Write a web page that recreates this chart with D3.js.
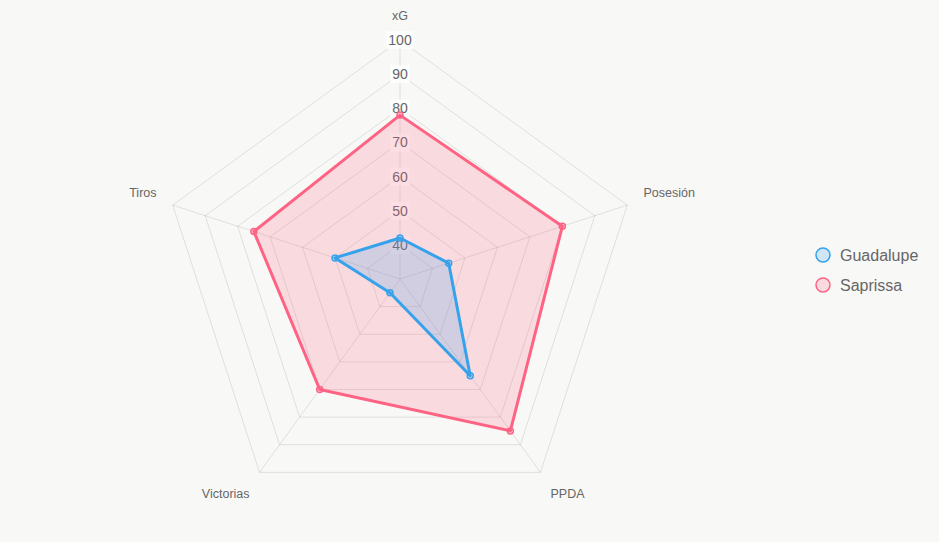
<!DOCTYPE html>
<html>
<head>
<meta charset="utf-8">
<script src="https://cdn.jsdelivr.net/npm/d3@7"></script>
<style>
  body { margin: 0; background: #f8f8f7; }
  svg { display: block; font-family: "Liberation Sans", Arial, Helvetica, sans-serif; }
</style>
</head>
<body>
<div id="chart"></div>
<script>
// axes of the radar and the two teams
var axes = ['xG', 'Posesión', 'PPDA', 'Victorias', 'Tiros'];
var guadalupe = [42, 45, 65, 35, 50];
var saprissa = [78, 80, 85, 70, 75];
var tickValues = [40, 50, 60, 70, 80, 90, 100];
var seriesNames = ['Guadalupe', 'Saprissa'];

var svgWidth = 939, svgHeight = 542;
var cx = 400, cy = 279, radius = 239;

var svg = d3.select('#chart').append('svg')
    .attr('width', svgWidth).attr('height', svgHeight);

svg.append('rect').attr('width', svgWidth).attr('height', svgHeight).attr('fill', '#f8f8f7');

var g = svg.append('g').attr('transform', `translate(${cx},${cy})`);

// radial scale, min 30 at the centre
var rScale = d3.scaleLinear().domain([30, 100]).range([0, radius]);
var angle = d3.scaleLinear().domain([0, axes.length]).range([0, 2 * Math.PI]);

var radial = d3.lineRadial()
    .angle((d, i) => angle(i))
    .radius(d => rScale(d))
    .curve(d3.curveLinearClosed);

// grid rings
tickValues.forEach(t => {
    g.append('path')
        .attr('d', radial(axes.map(() => t)))
        .attr('fill', 'none')
        .attr('stroke', 'rgba(0,0,0,0.1)')
        .attr('stroke-width', 1);
});

// angle lines
axes.forEach((a, i) => {
    var ang = angle(i);
    g.append('line')
        .attr('x1', 0).attr('y1', 0)
        .attr('x2', rScale(100) * Math.sin(ang))
        .attr('y2', -rScale(100) * Math.cos(ang))
        .attr('stroke', 'rgba(0,0,0,0.1)');
});

// tick labels with backdrop
tickValues.forEach(t => {
    var y = -rScale(t);
    var w = String(t).length * 7.8 + 4;
    g.append('rect')
        .attr('x', -w / 2).attr('y', y - 9)
        .attr('width', w).attr('height', 18)
        .attr('fill', 'rgba(255,255,255,0.75)');
    g.append('text')
        .attr('x', 0).attr('y', y)
        .attr('text-anchor', 'middle')
        .attr('dominant-baseline', 'central')
        .attr('font-size', 14)
        .attr('fill', '#666')
        .text(t);
});

// point labels
axes.forEach((a, i) => {
    var ang = angle(i);
    var deg = i * 360 / axes.length;
    var r = radius + 17;
    var x = r * Math.sin(ang);
    var y = -r * Math.cos(ang);
    var anchor = (deg === 0 || deg === 180) ? 'middle' : (deg < 180 ? 'start' : 'end');
    if (deg > 270 || deg < 90) y -= 7; else y += 8;
    g.append('text')
        .attr('x', x).attr('y', y)
        .attr('text-anchor', anchor)
        .attr('dominant-baseline', 'central')
        .attr('font-size', 12.5)
        .attr('fill', '#666')
        .text(a);
});

var colors = ['rgb(54,162,235)', 'rgb(255,99,132)'];
var fills = ['rgba(54,162,235,0.2)', 'rgba(255,99,132,0.2)'];
var series = [guadalupe, saprissa];

// later datasets are drawn first, so Guadalupe sits on top
[1, 0].forEach(k => {
    var vals = series[k];
    g.append('path')
        .attr('d', radial(vals))
        .attr('fill', fills[k])
        .attr('stroke', colors[k])
        .attr('stroke-width', 3)
        .attr('stroke-linejoin', 'round');

    g.selectAll('.pt' + k)
        .data(vals)
        .enter()
        .append('circle')
        .attr('class', 'pt' + k)
        .attr('cx', (d, i) => rScale(d) * Math.sin(angle(i)))
        .attr('cy', (d, i) => -rScale(d) * Math.cos(angle(i)))
        .attr('r', 3)
        .attr('fill', fills[k])
        .attr('stroke', colors[k])
        .attr('stroke-width', 1.5);
});

// legend
var legend = svg.append('g').attr('transform', 'translate(823,255)');
seriesNames.forEach((name, k) => {
    var row = legend.append('g').attr('transform', `translate(0,${k * 30})`);
    row.append('circle')
        .attr('r', 7)
        .attr('fill', fills[k])
        .attr('stroke', colors[k])
        .attr('stroke-width', 1.5);
    row.append('text')
        .attr('x', 17).attr('y', 0)
        .attr('dominant-baseline', 'central')
        .attr('font-size', 16)
        .attr('fill', '#666')
        .text(name);
});
</script>
</body>
</html>
